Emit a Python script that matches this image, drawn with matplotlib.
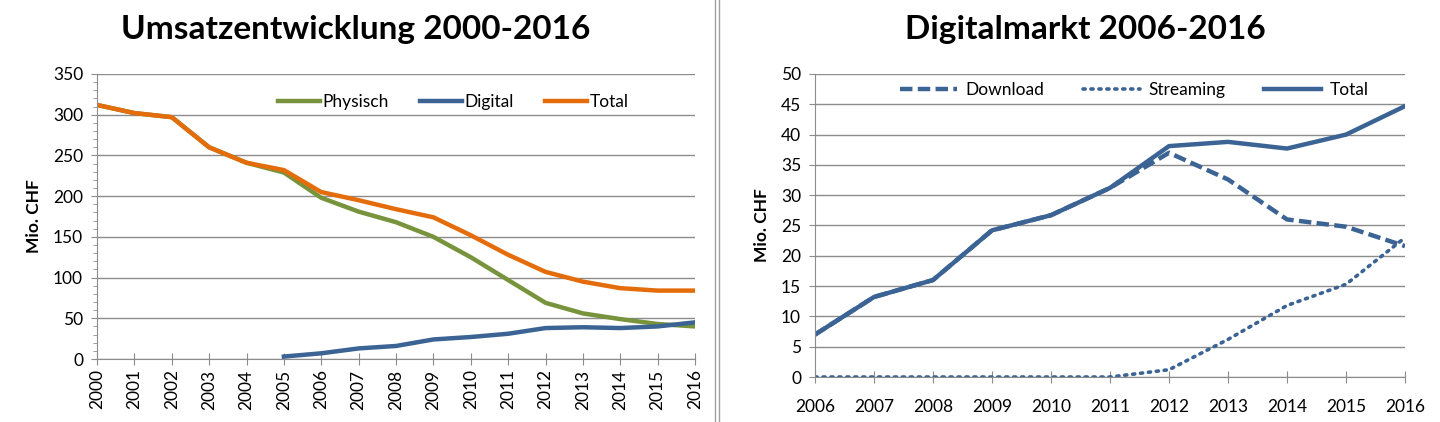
import matplotlib
matplotlib.use("Agg")
import matplotlib.pyplot as plt
from matplotlib.lines import Line2D
from matplotlib.ticker import MultipleLocator
import numpy as np

# ---- data: left chart ----
years_left = list(range(2000, 2017))
total_left = [312, 302, 297, 260, 241, 232, 205, 195, 184, 174, 152, 128, 107, 95, 87, 84, 84]
physisch = [312, 302, 297, 260, 241, 229, 198, 181, 168, 150, 125, 97, 69, 56, 49, 43, 40]
digital_years = list(range(2005, 2017))
digital = [3, 7, 13, 16, 24, 27, 31, 38, 39, 38, 40, 45]

# ---- data: right chart ----
years_right = list(range(2006, 2017))
total_right = [7, 13.2, 16, 24.2, 26.7, 31.2, 38.1, 38.8, 37.7, 40, 44.7]
download = [7, 13.2, 16, 24.2, 26.7, 31.2, 37, 32.6, 26, 24.8, 21.6]
streaming = [0, 0, 0, 0, 0, 0, 1.2, 6.2, 11.8, 15.3, 23]

GREEN = "#77933C"
BLUE = "#3B6494"
ORANGE = "#E46C0A"
GRID = "#8C8C8C"

TICKFONT = ["Liberation Sans Narrow", "Lato", "DejaVu Sans"]
TITLEFONT = ["Lato", "DejaVu Sans"]

fig = plt.figure(figsize=(14.4, 4.22), dpi=100)

def style_axes(ax):
    ax.grid(axis="y", color=GRID, linewidth=1.0)
    ax.set_axisbelow(True)
    for s in ["top", "right"]:
        ax.spines[s].set_visible(False)
    ax.spines["left"].set_color(GRID)
    ax.spines["bottom"].set_color(GRID)
    ax.tick_params(axis="y", length=4, color=GRID, labelsize=12.5, pad=6)
    ax.tick_params(axis="x", direction="inout", length=8, color=GRID, labelsize=12.5)
    for lab in ax.get_xticklabels() + ax.get_yticklabels():
        lab.set_family(TICKFONT)
    ax.set_ylabel("Mio. CHF", fontsize=12.5, fontweight="bold", family=TITLEFONT, labelpad=8)

# Left chart
ax1 = fig.add_axes([97/1440, 1-359/422, (695-97)/1440, (359-74)/422])
ax1.plot(years_left, physisch, color=GREEN, lw=3.2, label="Physisch", solid_joinstyle="round")
ax1.plot(digital_years, digital, color=BLUE, lw=3.2, label="Digital", solid_joinstyle="round")
ax1.plot(years_left, total_left, color=ORANGE, lw=3.2, label="Total", solid_joinstyle="round")
ax1.set_xlim(2000, 2016)
ax1.set_ylim(0, 350)
ax1.set_xticks(years_left)
ax1.set_xticklabels([str(y) for y in years_left], rotation=90)
ax1.yaxis.set_major_locator(MultipleLocator(50))
ax1.yaxis.set_minor_locator(MultipleLocator(10))
ax1.tick_params(axis="y", which="minor", length=3, color=GRID)
style_axes(ax1)
ax1.legend(loc="upper right", bbox_to_anchor=(0.915, 0.985), ncol=3, frameon=False,
           handlelength=2.4, handletextpad=0.15, columnspacing=1.8,
           prop={"family": TICKFONT, "size": 12.5})

# Right chart
ax2 = fig.add_axes([815/1440, 1-377/422, (1405-815)/1440, (377-74)/422])
ax2.plot(years_right, streaming, color=BLUE, lw=2.6, linestyle=(0, (0.6, 1.6)),
         dash_capstyle="round", label="Streaming")
ax2.plot(years_right, download, color=BLUE, lw=3.2, linestyle=(0, (2.8, 1.2)), label="Download")
ax2.plot(years_right, total_right, color=BLUE, lw=3.2, label="Total", solid_joinstyle="round")
ax2.set_xlim(2006, 2016)
ax2.set_ylim(0, 50)
ax2.set_xticks(years_right)
ax2.yaxis.set_major_locator(MultipleLocator(5))
style_axes(ax2)
ax2.tick_params(axis="x", pad=12)
h, l = ax2.get_legend_handles_labels()
order = [1, 0, 2]
ax2.legend([h[i] for i in order], [l[i] for i in order], loc="upper right",
           bbox_to_anchor=(0.965, 1.025), ncol=3, frameon=False,
           handlelength=3.3, handletextpad=0.5, columnspacing=2.2,
           prop={"family": TICKFONT, "size": 12.5})

# titles
fig.text(356/1440, 1-30/422, "Umsatzentwicklung 2000-2016", fontsize=24, fontweight="bold",
         family=TITLEFONT, ha="center", va="center")
fig.text(1085/1440, 1-30/422, "Digitalmarkt 2006-2016", fontsize=24, fontweight="bold",
         family=TITLEFONT, ha="center", va="center")

# divider double line
for x in (715, 719):
    fig.add_artist(Line2D([x/1440, x/1440], [0, 1], color="#A0A0A0", lw=1.0,
                          transform=fig.transFigure))

fig.savefig("out.png", dpi=100, facecolor="white")
